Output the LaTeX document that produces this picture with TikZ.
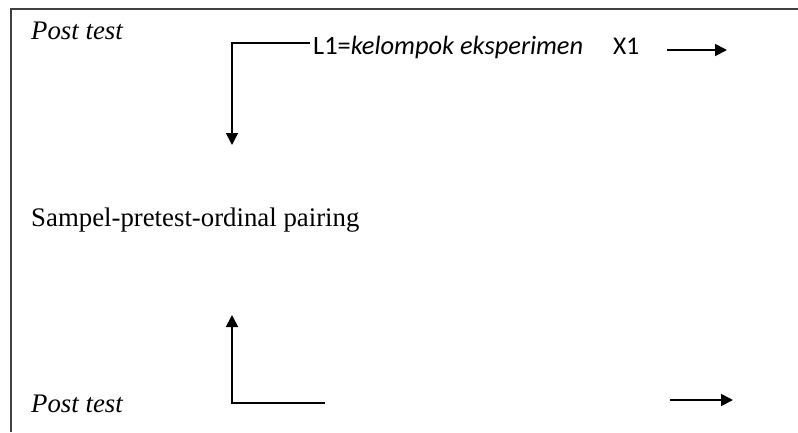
\documentclass[tikz,border=0pt]{standalone}
\usepackage{fontspec}
\setmainfont{Liberation Serif}
\newfontfamily\calib{Carlito}
\usetikzlibrary{arrows.meta}
\tikzset{
  serif/.style={anchor=base west,inner sep=0pt,font=\fontsize{26.8}{30}\selectfont},
  sanslab/.style={anchor=base west,inner sep=0pt,font=\calib\fontsize{25.5}{30}\selectfont},
  conn/.style={line width=1.8pt,-{Triangle[length=12pt,width=12pt]}},
  frame/.style={line width=1.5pt,draw=black!75}
}
\begin{document}
\begin{tikzpicture}[x=1pt,y=-1pt]
\useasboundingbox (0,0) rectangle (798,432);
\draw[frame] (11,432) -- (11,9) -- (798,9);
\node[serif] (pt1) at (31,39) {\itshape Post test};
\node[serif] (samp) at (31,226) {Sampel-pretest-ordinal pairing};
\node[serif] (pt2) at (31,412) {\itshape Post test};
\node[sanslab,font=\calib\fontsize{26.4}{30}\selectfont] (l1) at (313,54) {L1=\textit{kelompok eksperimen}};
\node[sanslab] (x1) at (613,54) {X1};
\coordinate (l1s) at (310,43);
\coordinate (c1) at (232,43);
\coordinate (t1) at (232,145);
\draw[conn] (l1s) -- (c1) -- (t1);
\coordinate (a1s) at (667,50);
\coordinate (a1e) at (727,50);
\draw[conn] (a1s) -- (a1e);
\coordinate (b1s) at (325,403);
\coordinate (c2) at (232,403);
\coordinate (t2) at (232,315);
\draw[conn] (b1s) -- (c2) -- (t2);
\coordinate (a2s) at (670,400);
\coordinate (a2e) at (733,400);
\draw[conn] (a2s) -- (a2e);
\end{tikzpicture}
\end{document}
